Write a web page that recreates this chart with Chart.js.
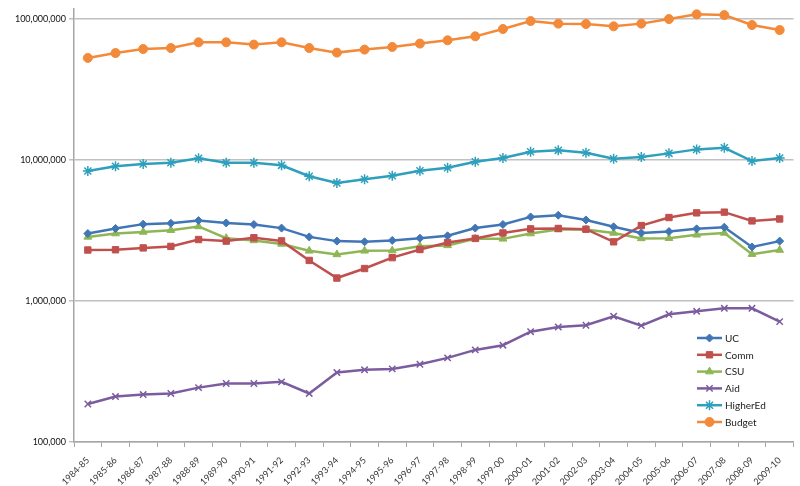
<!DOCTYPE html>
<html>
<head>
<meta charset="utf-8">
<script src="https://cdn.jsdelivr.net/npm/chart.js@4"></script>
<style>
html,body{margin:0;padding:0;background:#fff;}
#wrap{position:relative;width:800px;height:486px;}
</style>
</head>
<body>
<div id="wrap"><canvas id="c" width="800" height="486"></canvas></div>
<script>
const categories = ["1984-85","1985-86","1986-87","1987-88","1988-89","1989-90","1990-91","1991-92","1992-93","1993-94","1994-95","1995-96","1996-97","1997-98","1998-99","1999-00","2000-01","2001-02","2002-03","2003-04","2004-05","2005-06","2006-07","2007-08","2008-09","2009-10"];

const ucValues = [3010000,3270000,3510000,3560000,3720000,3580000,3490000,3290000,2850000,2660000,2630000,2690000,2790000,2900000,3290000,3490000,3950000,4060000,3760000,3360000,3040000,3110000,3250000,3340000,2420000,2660000];
const commValues = [2300000,2310000,2380000,2440000,2730000,2660000,2810000,2670000,1940000,1455000,1700000,2030000,2320000,2600000,2780000,3040000,3250000,3270000,3230000,2630000,3430000,3910000,4220000,4270000,3700000,3820000];
const csuValues = [2850000,3010000,3090000,3180000,3380000,2790000,2690000,2540000,2270000,2140000,2270000,2280000,2450000,2480000,2760000,2760000,3010000,3220000,3220000,3040000,2780000,2790000,2950000,3040000,2150000,2300000];
const aidValues = [186000,210000,217000,221000,243000,260000,260000,267000,221000,311000,325000,330000,356000,395000,450000,486000,606000,655000,673000,779000,669000,805000,845000,888000,888000,714000];
const higherEdValues = [8360000,9030000,9370000,9570000,10280000,9570000,9570000,9170000,7670000,6880000,7300000,7740000,8400000,8820000,9720000,10330000,11450000,11710000,11260000,10210000,10500000,11150000,11900000,12220000,9840000,10330000];
const budgetValues = [53000000,57400000,61300000,62300000,68400000,68400000,65900000,68400000,62300000,57800000,60700000,63400000,67000000,70700000,75400000,85000000,96800000,92800000,92200000,88800000,92800000,100000000,108000000,106700000,90700000,83600000];

const yTickValues = [100000,1000000,10000000,100000000];
const seriesNames = ["UC","Comm","CSU","Aid","HigherEd","Budget"];

const colors = {
  UC:"#4176b6", Comm:"#c0504d", CSU:"#8fb656", Aid:"#7b5d9f", HigherEd:"#2ea0bd", Budget:"#f28a3a"
};
const styles = {
  UC:{pointStyle:"rectRot",radius:4},
  Comm:{pointStyle:"rect",radius:4.5},
  CSU:{pointStyle:"triangle",radius:4.5},
  Aid:{pointStyle:"crossRot",radius:4.5},
  HigherEd:{pointStyle:"star",radius:5},
  Budget:{pointStyle:"circle",radius:4.5}
};
const seriesData = {UC:ucValues, Comm:commValues, CSU:csuValues, Aid:aidValues, HigherEd:higherEdValues, Budget:budgetValues};

const datasets = seriesNames.map(n => ({
  label:n,
  data:seriesData[n],
  borderColor:colors[n],
  backgroundColor:colors[n],
  pointBorderColor:colors[n],
  pointBackgroundColor:colors[n],
  borderWidth:2.5,
  pointBorderWidth:(n==="Aid"||n==="HigherEd")?1.5:1,
  pointStyle:styles[n].pointStyle,
  pointRadius:styles[n].radius,
  tension:0,
  fill:false
}));

const legendPlugin = {
  id:"insideLegend",
  afterDatasetsDraw(chart){
    const ctx = chart.ctx;
    const x0 = 697, x1 = 722, tx = 725, yStart = 338, step = 16.8;
    ctx.save();
    chart.data.datasets.forEach((ds,i)=>{
      const y = yStart + i*step;
      ctx.strokeStyle = ds.borderColor;
      ctx.lineWidth = 2.5;
      ctx.beginPath(); ctx.moveTo(x0,y); ctx.lineTo(x1,y); ctx.stroke();
      ctx.fillStyle = ds.pointBackgroundColor;
      ctx.strokeStyle = ds.pointBorderColor;
      ctx.lineWidth = ds.pointBorderWidth;
      Chart.helpers.drawPoint(ctx,{pointStyle:ds.pointStyle,radius:ds.pointRadius,rotation:0,borderWidth:ds.pointBorderWidth},(x0+x1)/2,y);
      ctx.fillStyle = "#1a1a1a";
      ctx.font = "10px Lato";
      ctx.textBaseline = "middle";
      ctx.textAlign = "left";
      ctx.fillText(ds.label, tx, y+0.5);
    });
    ctx.restore();
  }
};

new Chart(document.getElementById("c"),{
  type:"line",
  data:{labels:categories, datasets},
  plugins:[legendPlugin],
  options:{
    responsive:false,
    animation:false,
    layout:{padding:{top:7,right:0,left:0,bottom:0}},
    plugins:{legend:{display:false},tooltip:{enabled:false}},
    scales:{
      x:{
        type:"category",
        offset:true,
        grid:{offset:true,drawOnChartArea:false,drawTicks:true,tickLength:5,color:"#a6a6a6",lineWidth:1},
        border:{color:"#a6a6a6",width:1.5},
        ticks:{font:{family:"Lato",size:9},color:"#333",maxRotation:45,minRotation:45,autoSkip:false,padding:8},
        afterFit(s){s.height=44;}
      },
      y:{
        type:"logarithmic",
        min:100000,
        max:119000000,
        afterBuildTicks(s){s.ticks = yTickValues.map(v=>({value:v,major:true}));},
        grid:{color:"#c0c0c0",lineWidth:1.5,tickLength:5},
        border:{color:"#a6a6a6",width:1.5},
        ticks:{font:{family:"Lato",size:9},color:"#111",padding:3,
          callback:(v)=>Number(v).toLocaleString("en-US")},
        afterFit(s){s.width=74;}
      }
    }
  }
});
</script>
</body>
</html>
